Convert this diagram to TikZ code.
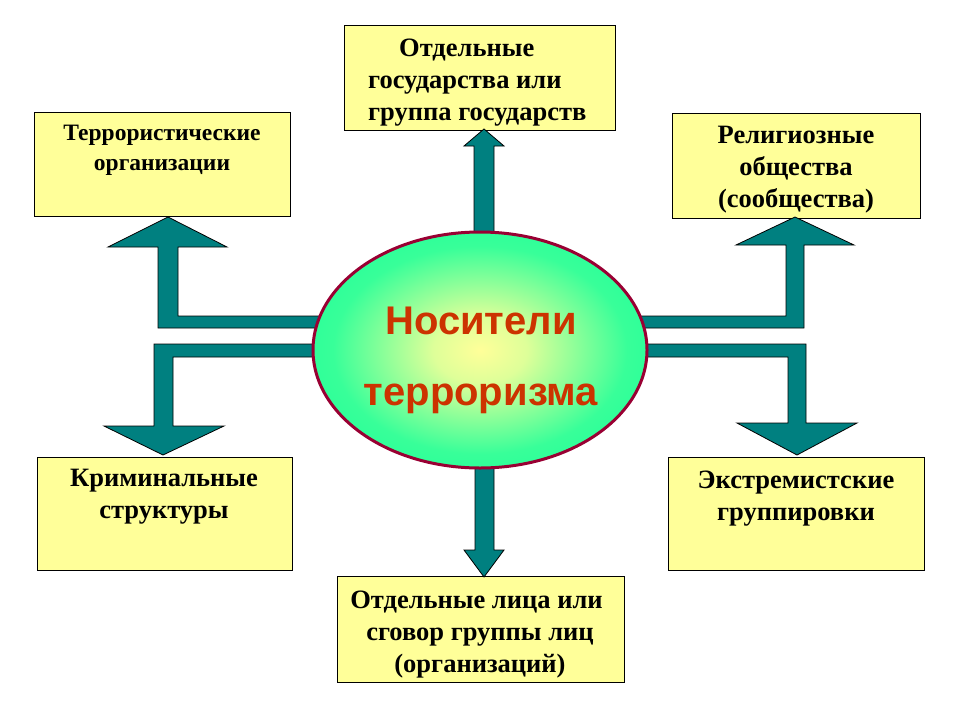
\documentclass[tikz,border=0pt]{standalone}
\usepackage{fontspec}
\setmainfont{Liberation Serif}
\newfontfamily\arialfont{Liberation Sans}
\usetikzlibrary{shapes.geometric}
\definecolor{boxfill}{HTML}{FFFF99}
\definecolor{teal}{HTML}{008080}
\definecolor{ellborder}{HTML}{990033}
\definecolor{elltext}{HTML}{CC3300}
\definecolor{ellgreen}{HTML}{22FF99}
\definecolor{ellyellow}{HTML}{FFFF99}
\pgfdeclareradialshading{ellshade}{\pgfpoint{0bp}{0bp}}{%
  color(0bp)=(ellyellow); color(7bp)=(ellyellow!85!ellgreen); color(22bp)=(ellgreen!90!ellyellow); color(30bp)=(ellgreen); color(50bp)=(ellgreen)}
\tikzset{
  ybox/.style={draw=black, line width=0.9pt, fill=boxfill},
  boxtext/.style={font=\bfseries\fontsize{26.5}{32}\selectfont, align=center, inner sep=0pt},
  smalltext/.style={font=\bfseries\fontsize{23.5}{30}\selectfont},
  blockarrow/.style={draw=black, line width=0.8pt, fill=teal, line join=miter},
}
\begin{document}
\begin{tikzpicture}[x=1pt,y=-1pt]
\useasboundingbox (0,0) rectangle (960,720);
% boxes
\draw[ybox] (344,25) rectangle (615,130);
\draw[ybox] (34,112) rectangle (290,216);
\draw[ybox] (672,113) rectangle (920,218);
\draw[ybox] (37,457) rectangle (292,570);
\draw[ybox] (668,457) rectangle (924,570);
\draw[ybox] (337,576) rectangle (624,682);
% texts
\node[boxtext, align=left, anchor=west] (ttop) at (368,83) {\hspace*{31pt}Отдельные\\государства или\\группа государств};
\node[boxtext, smalltext] (tlt) at (162,150) {Террористические\\организации};
\node[boxtext] (trt) at (796,170) {Религиозные\\общества\\(сообщества)};
\node[boxtext] (tlb) at (164,497) {Криминальные\\структуры};
\node[boxtext] (trb) at (796,499) {Экстремистские\\группировки};
\node[boxtext] (tbot) at (480,635) {Отдельные лица или\hspace*{7pt}\\сговор группы лиц\\(организаций)};
% arrows
\draw[blockarrow] (474,250) -- (474,146) -- (464,146) -- (484,129) -- (504,146) -- (494,146) -- (494,250) -- cycle;
\draw[blockarrow] (475,450) -- (475,550) -- (464,550) -- (484,577) -- (504,550) -- (494,550) -- (494,450) -- cycle;
\draw[blockarrow] (330,316) -- (178,316) -- (178,247) -- (227,247) -- (168,217) -- (108,247) -- (158,247) -- (158,328) -- (330,328) -- cycle;
\draw[blockarrow] (330,344) -- (154,344) -- (154,426) -- (104,426) -- (163,455) -- (224,426) -- (173,426) -- (173,357) -- (330,357) -- cycle;
\draw[blockarrow] (630,316) -- (786,316) -- (786,245) -- (736,245) -- (795,217) -- (854,245) -- (804,245) -- (804,328) -- (630,328) -- cycle;
\draw[blockarrow] (630,344) -- (806,344) -- (806,423) -- (857,423) -- (797,455) -- (737,423) -- (788,423) -- (788,357) -- (630,357) -- cycle;
% ellipse
\shade[shading=ellshade] (480,350) ellipse [x radius=167, y radius=118];
\draw[ellborder, line width=3pt] (480,350) ellipse [x radius=167, y radius=118];
\node[font=\arialfont\bfseries\fontsize{40}{71}\selectfont, text=elltext, align=center, inner sep=0pt] (center) at (481,360) {Носители\\терроризма};
\end{tikzpicture}
\end{document}
